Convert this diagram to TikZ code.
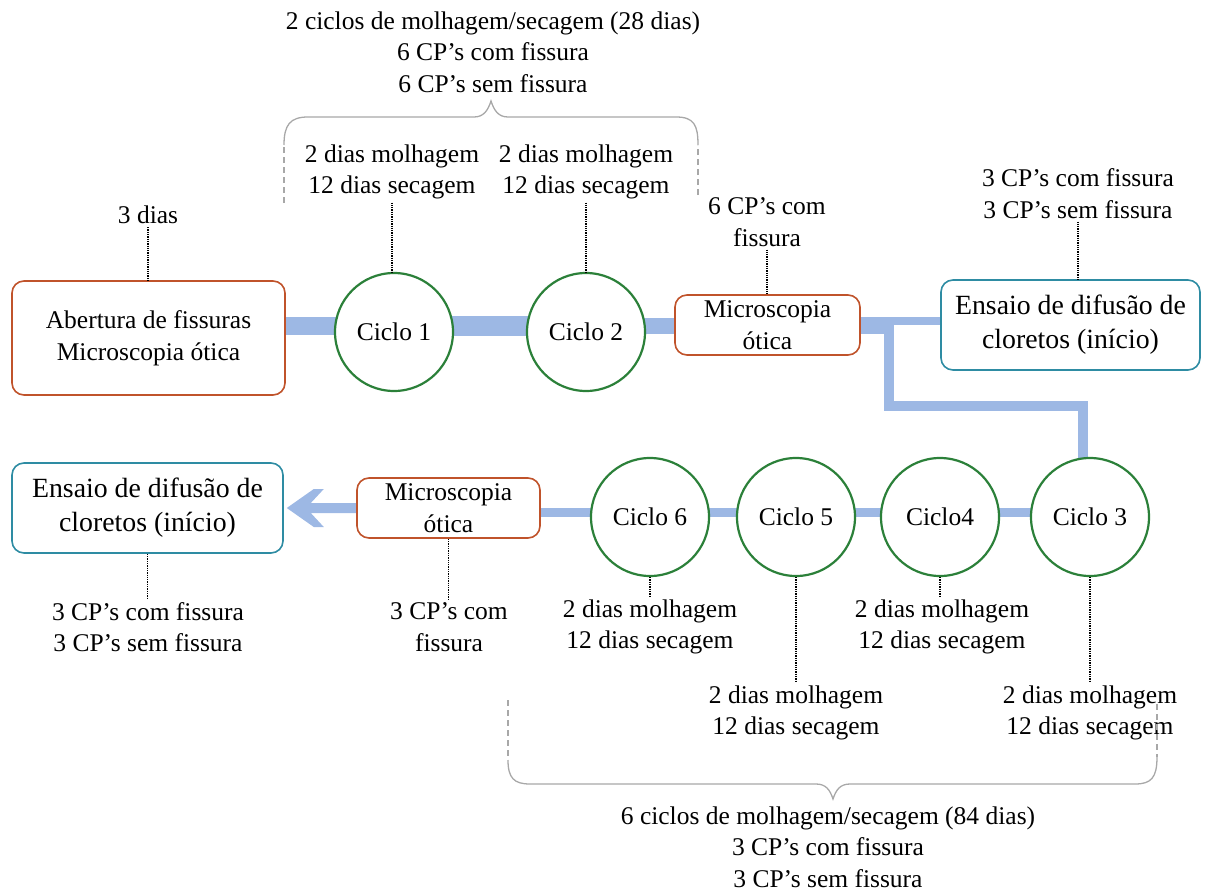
\documentclass[tikz,border=0pt]{standalone}
\usepackage{fontspec}
\setmainfont{Liberation Serif}
\usetikzlibrary{arrows.meta,backgrounds,calc}
\definecolor{cblue}{HTML}{9DB8E4}
\definecolor{corange}{HTML}{C0532B}
\definecolor{cgreen}{HTML}{2B8039}
\definecolor{cteal}{HTML}{2E8CA3}
\definecolor{cgray}{HTML}{A8A8A8}
\begin{document}
\begin{tikzpicture}[x=1pt,y=-1pt,
  font=\rmfamily\fontsize{25.5}{31.5}\selectfont,
  box/.style={draw, rounded corners=12pt, line width=1.6pt, fill=white, align=center, inner sep=0pt},
  obox/.style={box, draw=corange},
  tbox/.style={box, draw=cteal, font=\rmfamily\fontsize{27.8}{34}\selectfont},
  cyc/.style={circle, draw=cgreen, line width=2.2pt, fill=white, minimum size=118pt, inner sep=0pt},
  lbl/.style={align=center, inner sep=3pt},
  dline/.style={densely dotted, line width=1.3pt},
  conn/.style={draw=cblue},
  brace/.style={draw=cgray, line width=1.3pt},
  bracedash/.style={draw=cgray, line width=1.3pt, dash pattern=on 6pt off 4pt}]
\useasboundingbox (0,0) rectangle (1216,891);

% main nodes
\node[obox, minimum width=273pt, minimum height=114pt] (b1) at (148.5,338) {Abertura de fissuras\\Microscopia ótica};
\node[cyc] (c1) at (394,332) {Ciclo 1};
\node[cyc] (c2) at (586,332) {Ciclo 2};
\node[obox, minimum width=185pt, minimum height=60pt] (m1) at (767.5,325) {Microscopia\\ótica};
\node[tbox, minimum width=259pt, minimum height=90pt] (e1) at (1070.5,325) {Ensaio de difusão de\\cloretos (início)};

\node[cyc] (c3) at (1090,517) {Ciclo 3};
\node[cyc] (c4) at (940,517) {Ciclo4};
\node[cyc] (c5) at (796,517) {Ciclo 5};
\node[cyc] (c6) at (650,517) {Ciclo 6};
\node[obox, minimum width=183pt, minimum height=60pt] (m2) at (448.5,508) {Microscopia\\ótica};
\node[tbox, minimum width=271pt, minimum height=90pt] (e2) at (147.5,508) {Ensaio de difusão de\\cloretos (início)};

% labels
\node[lbl] (top) at (493,52) {2 ciclos de molhagem/secagem (28 dias)\\6 CP’s com fissura\\6 CP’s sem fissura};
\node[lbl] (l3d) at (148,215) {3 dias};
\node[lbl] (lc1) at (392,172) {2 dias molhagem\\12 dias secagem};
\node[lbl] (lc2) at (586,172) {2 dias molhagem\\12 dias secagem};
\node[lbl] (lm1) at (767,222) {6 CP’s com\\fissura};
\node[lbl] (le1) at (1078,193.5) {3 CP’s com fissura\\3 CP’s sem fissura};

\node[lbl] (le2) at (148,627) {3 CP’s com fissura\\3 CP’s sem fissura};
\node[lbl] (lm2) at (449,627) {3 CP’s com\\fissura};
\node[lbl] (lc6) at (650,627) {2 dias molhagem\\12 dias secagem};
\node[lbl] (lc5) at (796,713) {2 dias molhagem\\12 dias secagem};
\node[lbl] (lc4) at (942,627) {2 dias molhagem\\12 dias secagem};
\node[lbl] (lc3) at (1090,713) {2 dias molhagem\\12 dias secagem};
\node[lbl] (bot) at (828,847) {6 ciclos de molhagem/secagem (84 dias)\\3 CP’s com fissura\\3 CP’s sem fissura};

\coordinate (rowA) at (0,326);
\coordinate (rowB) at (0,512);
\coordinate (j1) at (888.5,405.5);

\begin{scope}[on background layer]
  % upper connectors
  \draw[conn, line width=18pt] (b1.east |- rowA) -- (c1.center |- rowA);
  \draw[conn, line width=20pt] (c1.center |- rowA) -- (c2.center |- rowA);
  \draw[conn, line width=16pt] (c2.center |- rowA) -- (m1.center |- rowA);
  \draw[conn, line width=8pt] (m1.center |- 0,321) -- (e1.center |- 0,321);
  \draw[conn, line width=10pt] (m1.center |- 0,329) -| (j1) -| ($(c3.north)+(-7,10)$);
  % lower connectors
  \draw[conn, line width=9pt] (c3.center |- rowB) -- (m2.center |- rowB);
  % arrow to e2
  \fill[cblue] ($(e2.east)+(3,0)$) coordinate (tip) -- ++(27,-19) -- ++(10,0) -- ++(-13,14)
     -- ($(m2.west)+(2,-5)$) -- ($(m2.west)+(2,5)$) -- ($(tip)+(24,5)$) -- ++(13,14) -- ++(-10,0) -- cycle;
\end{scope}

% dotted leaders
\draw[dline] (l3d.south) -- (l3d.south |- b1.north);
\draw[dline] (lc1.south) -- (lc1.south |- c1.north);
\draw[dline] (lc2.south) -- (lc2.south |- c2.north);
\draw[dline] (lm1.south) -- (lm1.south |- m1.north);
\draw[dline] (le1.south) -- (le1.south |- e1.north);
\draw[dline] (e2.south) -- (e2.south |- le2.north);
\draw[dline] (m2.south) -- (m2.south |- lm2.north);
\draw[dline] (c6.south) -- (c6.south |- lc6.north);
\draw[dline] (c5.south) -- (c5.south |- lc5.north);
\draw[dline] (c4.south) -- (c4.south |- lc4.north);
\draw[dline] (c3.south) -- (c3.south |- lc3.north);

% top brace
\draw[bracedash] (284,203) -- (284,145);
\draw[bracedash] (698,195) -- (698,145);
\draw[brace] (284,145) .. controls (284,125) and (290,117) .. (308,117) -- (474,117)
  .. controls (484,117) and (488,110) .. (491,101)
  .. controls (494,110) and (498,117) .. (508,117) -- (676,117)
  .. controls (694,117) and (698,125) .. (698,145);

% bottom brace
\draw[bracedash] (508,700) -- (508,760);
\draw[bracedash] (1157,704) -- (1157,757);
\draw[brace] (508,760) .. controls (508,778) and (514,784) .. (530,784) -- (816,784)
  .. controls (826,784) and (830,790) .. (833,799)
  .. controls (836,790) and (840,784) .. (850,784) -- (1135,784)
  .. controls (1151,784) and (1157,778) .. (1157,757);
\end{tikzpicture}
\end{document}
